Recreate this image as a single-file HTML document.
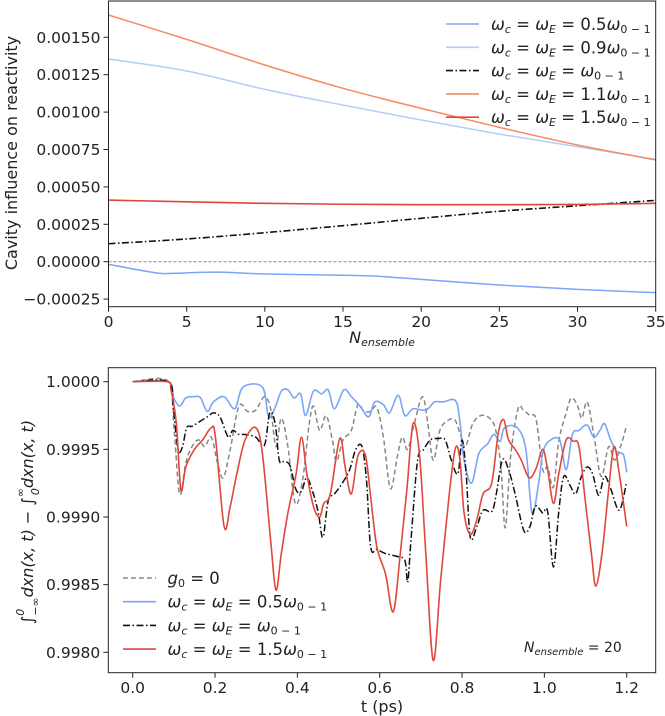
<!DOCTYPE html>
<html><head><meta charset="utf-8">
<style>
html,body{margin:0;padding:0;background:#fff;}
svg{display:block;font-family:"DejaVu Sans","Liberation Sans",sans-serif;}
</style></head>
<body>
<svg id="chart" width="665" height="716" viewBox="0 0 665 716" xmlns="http://www.w3.org/2000/svg">
<g id="top"></g>
<g id="bot"></g>
</svg>
<script>
// ---------- Top panel data ----------
const topXTicks = [0,5,10,15,20,25,30,35];
const topYTicks = [-0.00025,0,0.00025,0.0005,0.00075,0.001,0.00125,0.0015];
const topYTickLabels = ["\u22120.00025","0.00000","0.00025","0.00050","0.00075","0.00100","0.00125","0.00150"];
const nA = [0,5,10,15,20,25,30,35];
const s11 = [0.001649,0.001486,0.001315,0.001159,0.001025,0.000898,0.00078,0.00068];
const s09 = [0.001355,0.001275,0.001152,0.001047,0.000947,0.000853,0.000769,0.000684];
const s15 = [0.000412,0.000400,0.00039,0.000384,0.000381,0.000381,0.000383,0.00039];
const s10 = [0.00012,0.000152,0.000194,0.000241,0.00029,0.000337,0.000374,0.00041];
const nB = [0,3,4,7,10,15,17,20,25,30,35];
const s05 = [-0.000018,-0.000074,-0.000078,-0.00007,-0.000082,-0.000091,-0.000096,-0.000118,-0.000156,-0.000185,-0.000207];

// ---------- Bottom panel data ----------
const botXTicks = [0,0.2,0.4,0.6,0.8,1.0,1.2];
const botXTickLabels = ["0.0","0.2","0.4","0.6","0.8","1.0","1.2"];
const botYTicks = [0.998,0.9985,0.999,0.9995,1.0];
const botYTickLabels = ["0.9980","0.9985","0.9990","0.9995","1.0000"];
const tRed = [0,.083,.093,.106,.117,.129,.150,.170,.191,.201,.222,.237,.253,.273,.299,.315,.335,.348,.361,.377,.397,.410,.423,.439,.454,.464,.480,.503,.516,.531,.547,.565,.578,.593,.614,.633,.650,.666,.681,.697,.712,.730,.748,.769,.784,.795,.805,.820,.836,.851,.872,.888,.901,.913,.929,.944,.963,.980,.996,1.008,1.022,1.035,1.053,1.070,1.084,1.099,1.115,1.125,1.140,1.156,1.169,1.182,1.200];
const vRed = [1,1,.99994,.99969,.99920,.99937,.99950,.99957,.99966,.99959,.99893,.99908,.99932,.99957,.99966,.99947,.99883,.99846,.99873,.99903,.99932,.99959,.99932,.99908,.99900,.99910,.99917,.99958,.99937,.99917,.99945,.99946,.99915,.99878,.99858,.99830,.99873,.99920,.99969,.99945,.99873,.99794,.99853,.99917,.99951,.99942,.99903,.99887,.99898,.99917,.99925,.99962,.99972,.99957,.99950,.99942,.99929,.99936,.99950,.99935,.99910,.99932,.99957,.99956,.99952,.99913,.99871,.99849,.99873,.99920,.99952,.99932,.99893];
const tBlue = [0,.086,.098,.114,.129,.150,.165,.181,.196,.222,.248,.268,.315,.330,.346,.361,.377,.392,.408,.420,.439,.459,.475,.490,.513,.531,.552,.573,.588,.609,.624,.645,.661,.681,.712,.733,.753,.784,.795,.805,.823,.841,.862,.877,.893,.903,.934,.955,.970,.986,.996,1.011,1.037,1.053,1.068,1.084,1.104,1.120,1.135,1.146,1.161,1.176,1.192,1.200];
const vBlue = [1,1,.99989,.99982,.99988,.99989,.99988,.99978,.99985,.99989,.99980,.99996,.99996,.99974,.99981,.99993,.99994,.99988,.99991,.99975,.99993,.99991,.99994,.99980,.99994,.99989,.99982,.99974,.99985,.99983,.99977,.99990,.99975,.99980,.99979,.99985,.99985,.99986,.99970,.99942,.99925,.99947,.99954,.99961,.99956,.99966,.99966,.99950,.99903,.99925,.99947,.99956,.99957,.99935,.99961,.99964,.99968,.99959,.99964,.99969,.99957,.99948,.99946,.99933];
const tBlack = [0,.086,.098,.110,.121,.131,.144,.160,.181,.196,.212,.232,.243,.258,.273,.299,.320,.333,.346,.356,.368,.382,.397,.410,.423,.439,.451,.462,.475,.490,.509,.527,.542,.557,.568,.578,.593,.614,.640,.661,.668,.676,.692,.707,.723,.743,.759,.774,.790,.800,.810,.820,.836,.851,.872,.882,.898,.913,.929,.950,.965,.978,.996,1.008,1.022,1.035,1.047,1.063,1.076,1.090,1.104,1.117,1.132,1.146,1.161,1.182,1.200];
const vBlack = [1,1,.99982,.99950,.99952,.99966,.99967,.99970,.99974,.99977,.99974,.99959,.99964,.99961,.99961,.99959,.99953,.99977,.99969,.99942,.99941,.99938,.99920,.99919,.99929,.99917,.99903,.99885,.99912,.99917,.99925,.99935,.99950,.99952,.99927,.99878,.99876,.99873,.99871,.99868,.99852,.99883,.99942,.99950,.99957,.99958,.99957,.99942,.99932,.99957,.99932,.99885,.99893,.99905,.99904,.99915,.99942,.99935,.99917,.99890,.99893,.99908,.99903,.99904,.99863,.99904,.99930,.99923,.99917,.99930,.99937,.99932,.99916,.99930,.99921,.99905,.99926];
const tGray = [0,.088,.100,.114,.129,.144,.160,.175,.191,.206,.220,.237,.258,.279,.299,.320,.335,.348,.361,.377,.395,.413,.428,.439,.454,.470,.485,.495,.511,.531,.547,.562,.578,.593,.609,.626,.643,.655,.668,.684,.704,.717,.730,.746,.764,.782,.795,.808,.826,.846,.867,.882,.895,.905,.918,.936,.949,.965,.980,.996,1.008,1.022,1.035,1.053,1.066,1.081,1.091,1.104,1.120,1.138,1.156,1.171,1.187,1.200];
const vGray = [1,1,.99967,.99917,.99940,.99952,.99957,.99952,.99959,.99940,.99929,.99950,.99982,.99978,.99979,.99989,.99980,.99952,.99973,.99952,.99910,.99928,.99967,.99982,.99964,.99975,.99957,.99941,.99957,.99964,.99983,.99978,.99978,.99981,.99959,.99921,.99945,.99959,.99950,.99969,.99989,.99969,.99942,.99964,.99971,.99972,.99962,.99952,.99969,.99975,.99973,.99964,.99935,.99892,.99945,.99980,.99979,.99975,.99972,.99935,.99937,.99922,.99956,.99977,.99988,.99982,.99973,.99985,.99961,.99930,.99952,.99942,.99954,.99968];

const NS='http://www.w3.org/2000/svg';
function mk(parent,tag,attrs,text){const e=document.createElementNS(NS,tag);for(const k in attrs)e.setAttribute(k,attrs[k]);if(text!==undefined)e.textContent=text;parent.appendChild(e);return e;}
function smooth(pts){let d='M'+pts[0][0].toFixed(2)+','+pts[0][1].toFixed(2);
 for(let i=0;i<pts.length-1;i++){const p0=pts[Math.max(0,i-1)],p1=pts[i],p2=pts[i+1],p3=pts[Math.min(pts.length-1,i+2)];
  const c1=[p1[0]+(p2[0]-p0[0])/6,p1[1]+(p2[1]-p0[1])/6],c2=[p2[0]-(p3[0]-p1[0])/6,p2[1]-(p3[1]-p1[1])/6];
  d+='C'+c1[0].toFixed(2)+','+c1[1].toFixed(2)+' '+c2[0].toFixed(2)+','+c2[1].toFixed(2)+' '+p2[0].toFixed(2)+','+p2[1].toFixed(2);}
 return d;}

// ---------- Top panel ----------
const T=document.getElementById('top');
const tL=108.5,tR=655.7,tT=1,tB=306.7;
const txs=v=>tL+(v-0)/35*(tR-tL);
const tys=v=>261.7-v*149600;
function topLine(xs,ys,color,width,dash,name){
 const p=mk(T,'path',{d:smooth(xs.map((x,i)=>[txs(x),tys(ys[i])])),fill:'none',stroke:color,'stroke-width':width});
 if(dash)p.setAttribute('stroke-dasharray',dash);
 
 }
const z=mk(T,'line',{x1:tL,x2:tR,y1:tys(0),y2:tys(0),stroke:'#888','stroke-width':1,'stroke-dasharray':'3,2'});


topLine(nB,s05,'#7aa5f8',1.5,null,'line-0.5');
topLine(nA,s09,'#b3cdf9',1.5,null,'line-0.9');
topLine(nA,s10,'#111',1.6,'7,2.5,1.5,2.5','line-1.0');
topLine(nA,s11,'#f68a66',1.5,null,'line-1.1');
topLine(nA,s15,'#e0473b',1.6,null,'line-1.5');
const tf=mk(T,'rect',{x:tL,y:tT,width:tR-tL,height:tB-tT,fill:'none',stroke:'#222','stroke-width':1});


topXTicks.forEach(v=>{const x=txs(v);mk(T,'line',{x1:x,x2:x,y1:tB,y2:tB+5,stroke:'#222'});
 const t=mk(T,'text',{x:x,y:327,'text-anchor':'middle','font-size':15.5,fill:'#222'},String(v));
 
 });
topYTicks.forEach((v,i)=>{const y=tys(v);mk(T,'line',{x1:tL-5,x2:tL,y1:y,y2:y,stroke:'#222'});
 const t=mk(T,'text',{x:tL-8,y:y+5.5,'text-anchor':'end','font-size':15.5,fill:'#222'},topYTickLabels[i]);
 
 });
const yl=mk(T,'text',{transform:'translate(17,153) rotate(-90)','text-anchor':'middle','font-size':16,fill:'#222'},'Cavity influence on reactivity');


const xl=mk(T,'text',{x:382,y:343,'text-anchor':'middle','font-size':16,fill:'#222','font-style':'italic'});


xl.innerHTML='N<tspan font-size="11" dy="3">ensemble</tspan>';

const topLegend=[['#7aa5f8',null,'0.5ω'],['#b3cdf9',null,'0.9ω'],['#111','7,2.5,1.5,2.5','ω'],['#f68a66',null,'1.1ω'],['#e0473b',null,'1.5ω']];
topLegend.forEach((e,i)=>{const y=24+i*23.3;
 const g=mk(T,'g',{});
 
 
 mk(g,'line',{x1:446,x2:479,y1:y,y2:y,stroke:e[0],'stroke-width':1.6,'stroke-dasharray':e[1]||'none'});
 const t=mk(g,'text',{x:491,y:y+6,'font-size':16.5,fill:'#222'});
 t.innerHTML='<tspan font-style="italic">ω</tspan><tspan font-size="11" dy="3" font-style="italic">c</tspan><tspan dy="-3"> = </tspan><tspan font-style="italic">ω</tspan><tspan font-size="11" dy="3" font-style="italic">E</tspan><tspan dy="-3"> = '+e[2].replace('ω','')+'</tspan><tspan font-style="italic">ω</tspan><tspan font-size="11" dy="3">0 − 1</tspan>';});

// ---------- Bottom panel ----------
const B=document.getElementById('bot');
const bL=108.3,bR=655.7,bT=367.7,bB=672.7;
const bxs=v=>132.7+v*411.67;
function by(v){return 381.7+(1-v)*135300;}
function botLine(ts,vs,color,width,dash,name){
 const p=mk(B,'path',{d:smooth(ts.map((t,i)=>[bxs(t),by(vs[i])])),fill:'none',stroke:color,'stroke-width':width,'stroke-linejoin':'round'});
 if(dash)p.setAttribute('stroke-dasharray',dash);
 
 }
botLine(tGray,vGray,'#888',1.5,'5,3','line-g0');
botLine(tBlue,vBlue,'#7aa5f8',1.6,null,'line-0.5');
botLine(tBlack,vBlack,'#111',1.5,'7,2.5,1.5,2.5','line-1.0');
botLine(tRed,vRed,'#e0473b',1.6,null,'line-1.5');
const bf=mk(B,'rect',{x:bL,y:bT,width:bR-bL,height:bB-bT,fill:'none',stroke:'#222','stroke-width':1});


botXTicks.forEach((v,i)=>{const x=bxs(v);mk(B,'line',{x1:x,x2:x,y1:bB,y2:bB+5,stroke:'#222'});
 const t=mk(B,'text',{x:x,y:693,'text-anchor':'middle','font-size':15.5,fill:'#222'},botXTickLabels[i]);
 
 });
botYTicks.forEach((v,i)=>{const y=by(v);mk(B,'line',{x1:bL-5,x2:bL,y1:y,y2:y,stroke:'#222'});
 const t=mk(B,'text',{x:bL-8,y:y+5.5,'text-anchor':'end','font-size':15.5,fill:'#222'},botYTickLabels[i]);
 
 });
const bxl=mk(B,'text',{x:382,y:712,'text-anchor':'middle','font-size':16,fill:'#222'},'t (ps)');


const byl=mk(B,'text',{transform:'translate(33,522) rotate(-90)','text-anchor':'middle','font-size':16,fill:'#222','font-style':'italic'});


byl.innerHTML='∫<tspan font-size="11" dy="-9">0</tspan><tspan font-size="11" dx="-7" dy="15">−∞</tspan><tspan dy="-6">dxn(x, t) − ∫</tspan><tspan font-size="11" dy="-9">∞</tspan><tspan font-size="11" dx="-7" dy="15">0</tspan><tspan dy="-6">dxn(x, t)</tspan>';
const botLegend=[['#888','5,3','g'],['#7aa5f8',null,'0.5'],['#111','7,2.5,1.5,2.5',''],['#e0473b',null,'1.5']];
botLegend.forEach((e,i)=>{const y=578+i*23.7;
 const g=mk(B,'g',{});
 
 
 mk(g,'line',{x1:123,x2:156,y1:y,y2:y,stroke:e[0],'stroke-width':1.6,'stroke-dasharray':e[1]||'none'});
 const t=mk(g,'text',{x:167.5,y:y+6,'font-size':16.5,fill:'#222'});
 if(e[2]==='g') t.innerHTML='<tspan font-style="italic">g</tspan><tspan font-size="11" dy="3">0</tspan><tspan dy="-3"> = 0</tspan>';
 else t.innerHTML='<tspan font-style="italic">ω</tspan><tspan font-size="11" dy="3" font-style="italic">c</tspan><tspan dy="-3"> = </tspan><tspan font-style="italic">ω</tspan><tspan font-size="11" dy="3" font-style="italic">E</tspan><tspan dy="-3"> = '+e[2]+'</tspan><tspan font-style="italic">ω</tspan><tspan font-size="11" dy="3">0 − 1</tspan>';});
const ann=mk(B,'text',{x:524,y:652,'font-size':14,fill:'#222'});


ann.innerHTML='<tspan font-style="italic">N</tspan><tspan font-size="10" dy="3" font-style="italic">ensemble</tspan><tspan dy="-3"> = 20</tspan>';
</script>
</body></html>
